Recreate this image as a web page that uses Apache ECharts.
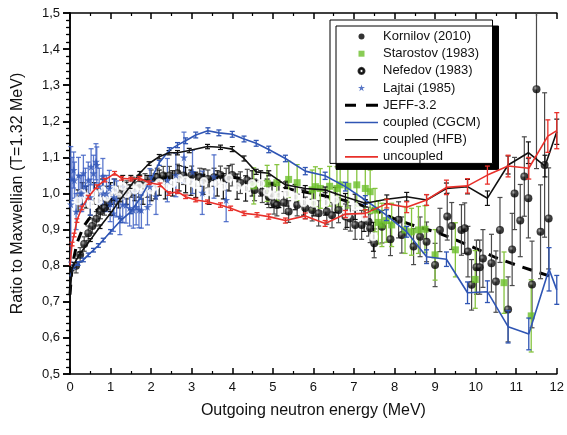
<!DOCTYPE html>
<html>
<head>
<meta charset="utf-8">
<script src="https://cdn.jsdelivr.net/npm/echarts@6/dist/echarts.min.js"></script>
<style>
  html, body { margin: 0; padding: 0; background: #fff; }
  #chart { width: 567px; height: 435px; }
</style>
</head>
<body>
<div id="chart"></div>
<script>
// x ticks (MeV) and y ticks (ratio)
const xTicks = [0, 1, 2, 3, 4, 5, 6, 7, 8, 9, 10, 11, 12];
const yTicks = [0.5, 0.6, 0.7, 0.8, 0.9, 1.0, 1.1, 1.2, 1.3, 1.4, 1.5];

// experimental data: [energy, ratio, error]
const kornilov = [
  [0.15, 0.80, 0.02], [0.25, 0.83, 0.02], [0.35, 0.86, 0.02], [0.45, 0.89, 0.02], [0.55, 0.91, 0.02],
  [0.65, 0.93, 0.02], [0.75, 0.95, 0.02], [0.85, 0.96, 0.02], [0.95, 0.975, 0.02], [1.1, 0.99, 0.02],
  [1.25, 1.0, 0.02], [1.4, 1.01, 0.025], [1.55, 1.02, 0.025], [1.7, 1.025, 0.025], [1.85, 1.03, 0.025],
  [2.0, 1.04, 0.025], [2.15, 1.045, 0.025], [2.3, 1.05, 0.025], [2.45, 1.05, 0.025], [2.65, 1.056, 0.025],
  [2.8, 1.05, 0.025], [3.0, 1.051, 0.025], [3.2, 1.045, 0.025], [3.4, 1.04, 0.025], [3.55, 1.045, 0.025],
  [3.71, 1.051, 0.025], [3.85, 1.04, 0.03], [4.0, 1.051, 0.03], [4.2, 1.03, 0.03], [4.37, 1.037, 0.03],
  [4.55, 1.01, 0.03], [4.74, 1.005, 0.03], [4.9, 0.991, 0.03], [5.03, 0.973, 0.03], [5.1, 0.968, 0.03],
  [5.27, 0.975, 0.03], [5.39, 0.95, 0.03], [5.6, 0.968, 0.03], [5.8, 0.96, 0.03], [5.97, 0.954, 0.03],
  [6.13, 0.945, 0.035], [6.33, 0.95, 0.035], [6.46, 0.94, 0.035], [6.62, 0.954, 0.035], [6.79, 0.936, 0.035],
  [6.91, 0.931, 0.035], [7.03, 0.913, 0.04], [7.19, 0.913, 0.04], [7.36, 0.922, 0.04], [7.4, 0.904, 0.04],
  [7.5, 0.862, 0.04], [7.69, 0.908, 0.045], [7.9, 0.873, 0.045], [8.1, 0.927, 0.05], [8.18, 0.885, 0.05],
  [8.47, 0.853, 0.05], [8.63, 0.88, 0.055], [8.79, 0.866, 0.055], [9.0, 0.802, 0.06], [9.12, 0.899, 0.06],
  [9.3, 0.936, 0.065], [9.41, 0.91, 0.065], [9.65, 0.899, 0.07], [9.73, 0.904, 0.07], [9.81, 0.839, 0.07],
  [9.9, 0.747, 0.07], [10.02, 0.796, 0.075], [10.1, 0.796, 0.075], [10.18, 0.82, 0.08], [10.39, 0.807, 0.08],
  [10.5, 0.756, 0.085], [10.6, 0.899, 0.09], [10.8, 0.679, 0.09], [10.9, 0.845, 0.1], [10.96, 1.0, 0.1],
  [11.1, 0.925, 0.1], [11.2, 1.047, 0.11], [11.3, 0.987, 0.11], [11.39, 0.748, 0.12], [11.5, 1.289, 0.22],
  [11.6, 0.894, 0.13], [11.7, 1.079, 0.2], [11.8, 0.931, 0.14]
];

const starostov = [
  [4.53, 1.021, 0.05], [4.86, 1.028, 0.05], [5.1, 1.03, 0.05], [5.39, 1.039, 0.05], [5.6, 1.03, 0.05],
  [5.97, 1.01, 0.055], [6.05, 1.019, 0.055], [6.17, 1.014, 0.055], [6.4, 1.02, 0.055], [6.58, 1.014, 0.06],
  [6.66, 1.024, 0.06], [6.85, 1.02, 0.06], [7.07, 1.024, 0.06], [7.28, 1.014, 0.06], [7.4, 1.005, 0.06],
  [7.52, 0.954, 0.06], [7.6, 0.92, 0.06], [7.69, 0.913, 0.06], [7.8, 0.925, 0.06], [7.93, 0.913, 0.06],
  [8.26, 0.899, 0.065], [8.42, 0.894, 0.065], [8.59, 0.899, 0.065], [8.75, 0.901, 0.065], [9.0, 0.83, 0.07],
  [9.5, 0.844, 0.075], [9.99, 0.762, 0.08], [10.7, 0.753, 0.085], [11.37, 0.661, 0.1]
];

const nefedov = [
  [0.2, 0.98, 0.03], [0.3, 1.0, 0.03], [0.4, 0.99, 0.03], [0.5, 0.97, 0.03], [0.6, 1.0, 0.03],
  [0.7, 0.98, 0.03], [0.8, 1.01, 0.03], [0.9, 0.99, 0.03], [1.0, 1.0, 0.03], [1.1, 1.01, 0.03],
  [1.2, 0.99, 0.03], [1.3, 1.02, 0.03], [1.4, 1.0, 0.03], [1.5, 1.02, 0.03], [1.6, 1.01, 0.03],
  [1.7, 1.02, 0.03], [1.8, 1.0, 0.03], [1.9, 1.02, 0.03], [2.0, 1.01, 0.03], [2.1, 1.02, 0.035],
  [2.2, 1.03, 0.035], [2.35, 1.02, 0.035], [2.53, 1.028, 0.035], [2.69, 1.042, 0.035], [2.85, 1.037, 0.035],
  [2.98, 1.03, 0.035], [3.1, 1.024, 0.035], [3.3, 1.033, 0.035], [3.43, 1.005, 0.035], [3.63, 1.028, 0.035],
  [3.78, 1.02, 0.035], [3.92, 1.042, 0.035], [4.12, 1.019, 0.035], [4.33, 1.014, 0.035], [4.49, 1.028, 0.035],
  [4.7, 1.028, 0.035], [4.86, 1.005, 0.035], [4.98, 0.996, 0.035], [5.15, 0.996, 0.035], [5.35, 1.0, 0.035],
  [5.55, 0.99, 0.035], [5.76, 0.975, 0.035], [6.01, 0.973, 0.035], [6.3, 0.975, 0.035], [6.54, 0.982, 0.035],
  [6.83, 0.941, 0.035], [7.03, 0.963, 0.035], [7.25, 0.935, 0.04], [7.48, 0.88, 0.04]
];

const lajtai = [
  [0.02, 0.97, 0.16], [0.05, 1.04, 0.06], [0.09, 1.065, 0.05], [0.11, 1.037, 0.05], [0.15, 0.95, 0.05],
  [0.21, 1.05, 0.05], [0.25, 1.0, 0.05], [0.29, 1.0, 0.05], [0.33, 1.056, 0.05], [0.38, 1.02, 0.05],
  [0.45, 1.037, 0.05], [0.5, 0.99, 0.05], [0.52, 1.074, 0.05], [0.58, 1.056, 0.05], [0.64, 1.088, 0.05],
  [0.66, 1.079, 0.05], [0.72, 1.02, 0.05], [0.81, 1.047, 0.05], [0.82, 1.0, 0.05], [0.9, 1.0, 0.05],
  [0.97, 1.014, 0.05], [0.99, 0.972, 0.05], [1.07, 0.945, 0.05], [1.08, 0.99, 0.05], [1.15, 0.985, 0.05],
  [1.23, 0.936, 0.05], [1.3, 0.97, 0.05], [1.38, 0.968, 0.05], [1.47, 0.96, 0.05], [1.56, 0.954, 0.05],
  [1.63, 0.963, 0.05], [1.7, 0.955, 0.05], [1.76, 0.954, 0.05], [1.91, 0.963, 0.05], [1.97, 1.019, 0.05],
  [2.12, 0.992, 0.05], [2.4, 1.037, 0.06], [2.61, 1.051, 0.06], [2.81, 1.1, 0.07], [3.02, 1.06, 0.06],
  [3.26, 1.002, 0.06], [3.55, 1.047, 0.06], [3.85, 0.982, 0.06]
];

// evaluation and calculations: [energy, ratio] / [energy, ratio, error]
const jeff = [
  [0, 0.72], [0.05, 0.797], [0.17, 0.862], [0.33, 0.908], [0.45, 0.927], [0.66, 0.954], [0.86, 0.972],
  [1.07, 0.986], [1.27, 1.0], [1.6, 1.02], [2.0, 1.035], [2.5, 1.048], [3.0, 1.052], [3.5, 1.05],
  [4.0, 1.045], [4.5, 1.037], [5.0, 1.025], [5.5, 1.01], [6.0, 1.0], [6.5, 0.988], [7.0, 0.975],
  [7.5, 0.955], [8.0, 0.93], [8.5, 0.91], [9.0, 0.894], [9.5, 0.872], [10.0, 0.848], [10.5, 0.822],
  [11.0, 0.802], [11.5, 0.783], [12.0, 0.765]
];

const cgcm = [
  [0, 0.77, 0], [0.09, 0.797, 0.005], [0.2, 0.806, 0.005], [0.33, 0.816, 0.005], [0.45, 0.83, 0.005],
  [0.58, 0.843, 0.005], [0.7, 0.856, 0.005], [0.82, 0.871, 0.005], [1.0, 0.894, 0.006], [1.25, 0.925, 0.006],
  [1.5, 0.95, 0.006], [1.75, 0.99, 0.006], [2.0, 1.04, 0.007], [2.2, 1.085, 0.007], [2.45, 1.12, 0.007],
  [2.65, 1.134, 0.007], [2.85, 1.146, 0.008], [3.1, 1.162, 0.008], [3.4, 1.174, 0.008], [3.67, 1.168, 0.008],
  [4.0, 1.164, 0.008], [4.29, 1.151, 0.008], [4.59, 1.139, 0.008], [4.9, 1.122, 0.009], [5.31, 1.097, 0.009],
  [5.8, 1.062, 0.01], [6.29, 1.049, 0.01], [6.79, 1.019, 0.012], [7.28, 0.982, 0.012], [7.8, 0.94, 0.015],
  [8.3, 0.894, 0.015], [8.79, 0.825, 0.019], [9.28, 0.818, 0.02], [9.8, 0.725, 0.03], [10.29, 0.728, 0.03],
  [10.8, 0.631, 0.045], [11.31, 0.611, 0.044], [11.81, 0.79, 0.06], [12.0, 0.733, 0.04]
];

const hfb = [
  [0, 0.72, 0], [0.05, 0.79, 0.004], [0.1, 0.805, 0.004], [0.25, 0.834, 0.004], [0.5, 0.871, 0.004],
  [0.74, 0.908, 0.005], [1.0, 0.945, 0.005], [1.23, 0.982, 0.005], [1.48, 1.019, 0.005], [1.72, 1.056, 0.005],
  [1.95, 1.083, 0.005], [2.2, 1.102, 0.006], [2.44, 1.113, 0.006], [2.65, 1.113, 0.006], [2.94, 1.119, 0.006],
  [3.39, 1.13, 0.006], [3.71, 1.128, 0.006], [4.0, 1.123, 0.007], [4.29, 1.097, 0.007], [4.59, 1.06, 0.007],
  [4.9, 1.056, 0.007], [5.31, 1.024, 0.008], [5.8, 1.014, 0.008], [6.29, 1.01, 0.008], [6.79, 0.99, 0.01],
  [7.28, 0.973, 0.01], [7.81, 0.984, 0.012], [8.3, 0.991, 0.012], [8.79, 0.982, 0.015], [9.28, 1.014, 0.015],
  [9.8, 1.019, 0.02], [10.29, 0.987, 0.02], [10.8, 1.079, 0.025], [11.3, 1.113, 0.03], [11.71, 1.076, 0.03],
  [12.0, 1.171, 0.035]
];

const uncoupled = [
  [0, 0.80, 0], [0.05, 0.86, 0.005], [0.1, 0.885, 0.005], [0.17, 0.925, 0.005], [0.29, 0.96, 0.005],
  [0.45, 0.99, 0.005], [0.66, 1.019, 0.005], [0.86, 1.037, 0.005], [1.1, 1.056, 0.005], [1.27, 1.042, 0.005],
  [1.5, 1.04, 0.005], [1.72, 1.042, 0.005], [1.95, 1.03, 0.005], [2.22, 1.024, 0.005], [2.44, 1.0, 0.005],
  [2.65, 1.005, 0.005], [2.85, 0.991, 0.005], [3.1, 0.982, 0.005], [3.39, 0.977, 0.005], [3.71, 0.968, 0.006],
  [3.96, 0.959, 0.006], [4.29, 0.945, 0.006], [4.61, 0.941, 0.006], [4.9, 0.936, 0.007], [5.31, 0.925, 0.007],
  [5.8, 0.938, 0.008], [6.29, 0.917, 0.008], [6.79, 0.943, 0.01], [7.28, 0.945, 0.01], [7.81, 0.972, 0.012],
  [8.3, 0.962, 0.015], [8.79, 0.982, 0.015], [9.28, 1.017, 0.02], [9.8, 1.021, 0.02], [10.29, 1.051, 0.025],
  [10.8, 1.076, 0.03], [11.31, 1.07, 0.03], [11.78, 1.159, 0.045], [12.0, 1.174, 0.05]
];

const FONT = 'Liberation Sans, Arial, sans-serif';
const STAR = 'path://M50,0 L61,35 L98,35 L68,57 L79,91 L50,70 L21,91 L32,57 L2,35 L39,35 Z';

// legend icons (drawn inside a 33x7 box; the two leading moves fix the box)
const ICON_DOT = 'path://M0,0 M33,7 M16.5,0.5 A3,3 0 1,1 16.5,6.5 A3,3 0 1,1 16.5,0.5 Z';
const ICON_SQUARE = 'path://M0,0 M33,7 M13.5,0.5 H19.5 V6.5 H13.5 Z';
const ICON_RING = 'path://M0,0 M33,7 M19.5,3.5 L19.1,5 L18,6.1 L16.5,6.5 L15,6.1 L13.9,5 L13.5,3.5 L13.9,2 L15,0.9 L16.5,0.5 L18,0.9 L19.1,2 Z ' +
  'M18.5,3.5 L18.23,2.5 L17.5,1.77 L16.5,1.5 L15.5,1.77 L14.77,2.5 L14.5,3.5 L14.77,4.5 L15.5,5.23 L16.5,5.5 L17.5,5.23 L18.23,4.5 Z';
const ICON_STAR = 'path://M0,0 M33,7 M16.5,0 L17.3,2.5 L20,2.5 L17.8,4 L18.7,6.6 L16.5,5 L14.3,6.6 L15.2,4 L13,2.5 L15.7,2.5 Z';
const ICON_LINE = 'path://M0,0 M33,7 M0,2.7 H33 V4.3 H0 Z';
const ICON_DASH = 'path://M0,0 M33,7 M0,2 H11 V5 H0 Z M21,2 H33 V5 H21 Z';

const legendItems = [
  { name: 'Kornilov (2010)', icon: ICON_DOT, itemStyle: { color: '#000' } },
  { name: 'Starostov (1983)', icon: ICON_SQUARE, itemStyle: { color: '#6cbf2a' } },
  { name: 'Nefedov (1983)', icon: ICON_RING, itemStyle: { color: '#000' } },
  { name: 'Lajtai (1985)', icon: ICON_STAR, itemStyle: { color: '#2f55b8' } },
  { name: 'JEFF-3.2', icon: ICON_DASH, itemStyle: { color: '#000' } },
  { name: 'coupled (CGCM)', icon: ICON_LINE, itemStyle: { color: '#2f55b4' } },
  { name: 'coupled (HFB)', icon: ICON_LINE, itemStyle: { color: '#111' } },
  { name: 'uncoupled', icon: ICON_LINE, itemStyle: { color: '#e8302a' } }
];

// vertical error bar with caps, clamped to the plot range
function errorBars(color, capHalf, width, opacity) {
  return function (params, api) {
    const x = api.value(0), y = api.value(1), e = api.value(2);
    if (!e) return null;
    const top = Math.min(y + e, 1.5), bot = Math.max(y - e, 0.5);
    const hi = api.coord([x, top]);
    const lo = api.coord([x, bot]);
    const style = { stroke: color, lineWidth: width, opacity: opacity };
    const children = [{ type: 'line', shape: { x1: lo[0], y1: lo[1], x2: hi[0], y2: hi[1] }, style: style }];
    if (top === y + e) children.push({ type: 'line', shape: { x1: hi[0] - capHalf, y1: hi[1], x2: hi[0] + capHalf, y2: hi[1] }, style: style });
    if (bot === y - e) children.push({ type: 'line', shape: { x1: lo[0] - capHalf, y1: lo[1], x2: lo[0] + capHalf, y2: lo[1] }, style: style });
    return { type: 'group', children: children };
  };
}

function barSeries(data, color, capHalf, width, opacity, z) {
  return {
    type: 'custom', name: 'err', data: data, z: z, silent: true,
    renderItem: errorBars(color, capHalf, width, opacity),
    encode: { x: 0, y: 1 }
  };
}

const chart = echarts.init(document.getElementById('chart'), null, { renderer: 'canvas' });

chart.setOption({
  animation: false,
  backgroundColor: '#fff',
  textStyle: { fontFamily: FONT },
  grid: { left: 70, right: 8, top: 13, bottom: 61 },
  legend: {
    data: legendItems,
    orient: 'vertical',
    left: 330, top: 20,
    padding: [10, 12, 0, 14],
    itemWidth: 33, itemHeight: 7, itemGap: 4.2,
    selectedMode: false,
    backgroundColor: '#fff',
    borderColor: '#000', borderWidth: 1, borderRadius: 0,
    shadowColor: '#000', shadowBlur: 0, shadowOffsetX: 6, shadowOffsetY: 6,
    textStyle: { fontFamily: FONT, fontSize: 13, color: '#111' }
  },
  xAxis: [{
    type: 'value', min: 0, max: 12, interval: 1,
    name: 'Outgoing neutron energy (MeV)', nameLocation: 'middle', nameGap: 29,
    nameTextStyle: { fontFamily: FONT, fontSize: 16, color: '#111' },
    axisLine: { lineStyle: { color: '#000', width: 1.5 } },
    axisTick: { inside: true, length: 6, lineStyle: { color: '#000', width: 1.5 } },
    minorTick: { show: true, splitNumber: 2, length: 3, lineStyle: { color: '#000', width: 1.2 } },
    axisLabel: { fontFamily: FONT, fontSize: 13, color: '#111', margin: 7, formatter: v => xTicks.includes(v) ? String(v) : '' },
    splitLine: { show: false }
  }, {
    type: 'value', min: 0, max: 12, interval: 1, position: 'top',
    axisLine: { lineStyle: { color: '#000', width: 1.5 } },
    axisTick: { inside: true, length: 6, lineStyle: { color: '#000', width: 1.5 } },
    minorTick: { show: true, splitNumber: 2, length: 3, lineStyle: { color: '#000', width: 1.2 } },
    axisLabel: { show: false }, splitLine: { show: false }
  }],
  yAxis: [{
    type: 'value', min: 0.5, max: 1.5, interval: 0.1,
    name: 'Ratio to Maxwellian (T=1.32 MeV)', nameLocation: 'middle', nameGap: 44,
    nameTextStyle: { fontFamily: FONT, fontSize: 16, color: '#111' },
    axisLine: { lineStyle: { color: '#000', width: 1.5 } },
    axisTick: { inside: false, length: 7, lineStyle: { color: '#000', width: 1.5 } },
    minorTick: { show: true, splitNumber: 5, length: 3, lineStyle: { color: '#000', width: 1.2 } },
    axisLabel: {
      fontFamily: FONT, fontSize: 13, color: '#111', margin: 10,
      formatter: v => {
        const t = yTicks.find(k => Math.abs(k - v) < 1e-6);
        return t === undefined ? '' : t.toFixed(1).replace('.', ',');
      }
    },
    splitLine: { show: false }
  }, {
    type: 'value', min: 0.5, max: 1.5, interval: 0.1, position: 'right',
    axisLine: { lineStyle: { color: '#000', width: 1.5 } },
    axisTick: { inside: true, length: 7, lineStyle: { color: '#000', width: 1.5 } },
    minorTick: { show: true, splitNumber: 5, length: 4, lineStyle: { color: '#000', width: 1.2 } },
    axisLabel: { show: false }, splitLine: { show: false }
  }],
  series: [
    {
      name: 'JEFF-3.2', type: 'line', data: jeff, symbol: 'none', z: 2,
      lineStyle: { color: '#000', width: 3, type: [10, 8] }, itemStyle: { color: '#000' }
    },
    barSeries(kornilov, '#4a4a4a', 2.5, 1.2, 1, 3),
    barSeries(nefedov, '#111', 2.5, 1.2, 1, 3),
    barSeries(starostov, '#86c440', 2.5, 1.3, 1, 3),
    barSeries(lajtai, '#3f62c4', 2.5, 1.3, 0.85, 3),
    {
      name: 'Kornilov (2010)', type: 'scatter', data: kornilov, symbol: 'circle', symbolSize: 8, z: 5,
      itemStyle: {
        color: { type: 'radial', x: 0.38, y: 0.35, r: 0.65, colorStops: [{ offset: 0, color: '#999' }, { offset: 0.45, color: '#111' }, { offset: 1, color: '#000' }] }
      }
    },
    {
      name: 'Starostov (1983)', type: 'scatter', data: starostov, symbol: 'rect', symbolSize: 7, z: 5,
      itemStyle: { color: '#6cbf2a' }
    },
    {
      name: 'Nefedov (1983)', type: 'scatter', data: nefedov, symbol: 'emptyCircle', symbolSize: 7, z: 5,
      itemStyle: { color: '#fff', borderColor: '#000', borderWidth: 1 }
    },
    {
      name: 'Lajtai (1985)', type: 'scatter', data: lajtai, symbol: STAR, symbolSize: 8, z: 5,
      itemStyle: { color: '#2f55b8' }
    },
    {
      name: 'coupled (CGCM)', type: 'line', data: cgcm, symbol: 'none', z: 6,
      lineStyle: { color: '#2f55b4', width: 1.6 }, itemStyle: { color: '#2f55b4' }
    },
    barSeries(cgcm, '#2f55b4', 2.5, 1.3, 1, 6),
    {
      name: 'coupled (HFB)', type: 'line', data: hfb, symbol: 'none', z: 6,
      lineStyle: { color: '#111', width: 1.6 }, itemStyle: { color: '#111' }
    },
    barSeries(hfb, '#111', 2.5, 1.2, 1, 6),
    {
      name: 'uncoupled', type: 'line', data: uncoupled, symbol: 'none', z: 7,
      lineStyle: { color: '#e8302a', width: 1.6 }, itemStyle: { color: '#e8302a' }
    },
    barSeries(uncoupled, '#e8302a', 2.5, 1.3, 1, 7)
  ]
});
</script>
</body>
</html>
